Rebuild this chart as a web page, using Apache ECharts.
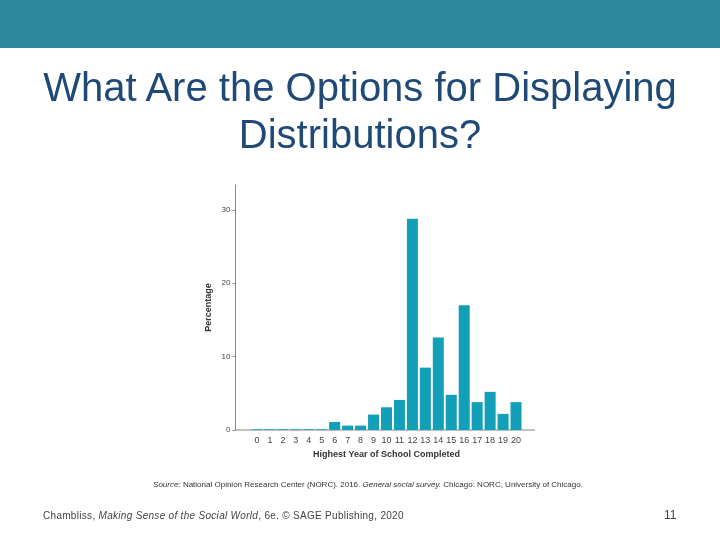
<!DOCTYPE html>
<html>
<head>
<meta charset="UTF-8">
<style>
  html,body{margin:0;width:720px;height:540px;background:#fff;font-family:'Liberation Sans',Arial,sans-serif;}
  #bar{position:absolute;left:0;top:0;width:720px;height:48px;background:#2f879e;}
  #title{position:absolute;left:0;top:64px;width:720px;text-align:center;color:#1f4a78;font-size:40px;line-height:47px;}
  #chart{position:absolute;left:0;top:0;width:720px;height:540px;}
  #src{position:absolute;left:0;top:480px;width:736px;text-align:center;font-size:8px;color:#333;}
  #foot{position:absolute;left:43px;top:510px;font-size:10px;color:#444;letter-spacing:0.3px;}
  #page{position:absolute;left:664px;top:508px;font-size:12px;color:#444;}
</style>
</head>
<body>
<div id="bar"></div>
<div id="chart"></div>
<div id="title">What Are the Options for Displaying<br>Distributions?</div>
<div id="src"><i>Source:</i> National Opinion Research Center (NORC). 2016. <i>General social survey.</i> Chicago: NORC, University of Chicago.</div>
<div id="foot">Chambliss, <i>Making Sense of the Social World</i>, 6e. © SAGE Publishing, 2020</div>
<div id="page">11</div>
<script src="https://cdn.jsdelivr.net/npm/echarts@6/dist/echarts.min.js"></script>
<script>
var years = ['0','1','2','3','4','5','6','7','8','9','10','11','12','13','14','15','16','17','18','19','20'];
var percents = [0.1,0.1,0.1,0.1,0.1,0.1,1.1,0.6,0.6,2.1,3.1,4.1,28.8,8.5,12.6,4.8,17.0,3.8,5.2,2.2,3.8];

var chart = echarts.init(document.getElementById('chart'));
chart.setOption({
    animation: false,
    grid: {left: 250.5, right: 197.5, top: 185, bottom: 110},
    xAxis: {
        type: 'category',
        data: years,
        name: 'Highest Year of School Completed',
        nameLocation: 'middle',
        nameGap: 20,
        nameTextStyle: {fontSize: 9, fontWeight: 'bold', color: '#333'},
        axisLine: {show: false},
        axisTick: {show: false},
        axisLabel: {fontSize: 9, color: '#444', margin: 6, interval: 0}
    },
    yAxis: {
        type: 'value',
        min: 0,
        max: 33.4,
        interval: 10,
        offset: 15,
        name: 'Percentage',
        nameLocation: 'middle',
        nameGap: 22,
        nameTextStyle: {fontSize: 9, fontWeight: 'bold', color: '#333'},
        axisLine: {show: true, lineStyle: {color: '#888'}},
        axisTick: {show: true, length: 3, lineStyle: {color: '#888'}},
        axisLabel: {fontSize: 8, color: '#444', showMaxLabel: false, margin: 5},
        splitLine: {show: false}
    },
    graphic: [{
        type: 'line',
        shape: {x1: 235, y1: 430, x2: 535, y2: 430},
        style: {stroke: '#888', lineWidth: 1}
    }],
    series: [{
        type: 'bar',
        data: percents,
        barCategoryGap: '15%',
        itemStyle: {color: '#129fb8'}
    }]
});
</script>
</body>
</html>
